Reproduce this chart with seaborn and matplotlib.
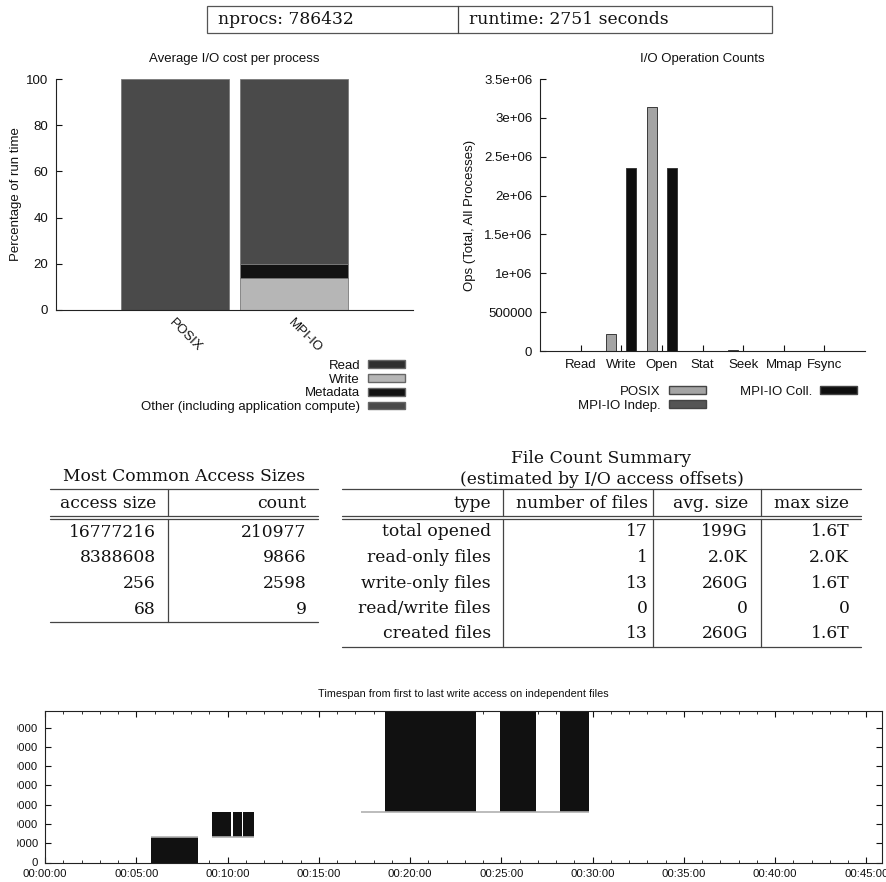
import numpy as np
import pandas as pd
import seaborn as sns
import matplotlib
matplotlib.use('Agg')
import matplotlib.pyplot as plt
from matplotlib.patches import Patch, Rectangle
from matplotlib.ticker import FuncFormatter, MultipleLocator
from matplotlib.transforms import Bbox

## header values
nprocs = 786432
runtime = 2751

## average I/O cost per process, percent of run time
cost_apis = ['POSIX', 'MPI-IO']
cost_parts = ['Read', 'Write', 'Metadata', 'Other (including application compute)']
cost_read = [0.0, 0.0]
cost_write = [0.0, 13.7]
cost_meta = [0.0, 6.1]
cost_other = [100.0, 80.2]
cost_colors = ['#2e2e2e', '#b6b6b6', '#121212', '#4a4a4a']

## I/O operation counts
ops = ['Read', 'Write', 'Open', 'Stat', 'Seek', 'Mmap', 'Fsync']
api_names = ['POSIX', 'MPI-IO Indep.', 'MPI-IO Coll.']
ops_posix = [0, 223450, 3145728, 0, 9000, 0, 0]
ops_mpi_indep = [0, 0, 0, 0, 0, 0, 0]
ops_mpi_coll = [0, 2359296, 2359296, 0, 0, 0, 0]
api_colors = {'POSIX': '#a4a4a4', 'MPI-IO Indep.': '#555555', 'MPI-IO Coll.': '#0e0e0e'}

## most common access sizes
access_sizes = [16777216, 8388608, 256, 68]
access_counts = [210977, 9866, 2598, 9]

## file count summary
file_types = ['total opened', 'read-only files', 'write-only files', 'read/write files', 'created files']
file_counts = [17, 1, 13, 0, 13]
avg_sizes = ['199G', '2.0K', '260G', '0', '260G']
max_sizes = ['1.6T', '2.0K', '1.6T', '0', '1.6T']

## timespan of write access (seconds, rank ranges)
span_start = [350, 549, 618, 651, 1118, 1497, 1692]
span_end = [503, 612, 646, 688, 1417, 1614, 1789]
span_rank_lo = [0, 131072, 131072, 131072, 262144, 262144, 262144]
span_rank_hi = [131072, 262144, 262144, 262144, 786432, 786432, 786432]
edge_start = [350, 549, 1038]
edge_end = [503, 688, 1789]
edge_rank = [131072, 131072, 262144]

sns.set_style('ticks')
plt.rcParams['font.family'] = ['Liberation Sans', 'DejaVu Sans']
plt.rcParams['axes.linewidth'] = 0.8
plt.rcParams['axes.edgecolor'] = '#222222'
plt.rcParams['text.color'] = '#111111'
plt.rcParams['axes.labelcolor'] = '#111111'
plt.rcParams['xtick.color'] = '#111111'
plt.rcParams['ytick.color'] = '#111111'

W, H = 887, 882
fig = plt.figure(figsize=(W / 100, H / 100), dpi=100)
fs = 9.5
serif = 'DejaVu Serif'
tfs = 12.3


def box(l, t, r, b):
    return [l / W, 1 - b / H, (r - l) / W, (b - t) / H]


## I. average I/O cost
ax1 = fig.add_axes(box(56, 79, 413, 310))
x = np.arange(len(cost_apis))
bottom = np.zeros(len(cost_apis))
for vals, color, name in zip([cost_read, cost_write, cost_meta, cost_other], cost_colors, cost_parts):
    ax1.bar(x, vals, width=0.9, bottom=bottom, color=color, edgecolor='#7a7a7a', linewidth=0.6, label=name)
    bottom += np.array(vals)
ax1.set_xlim(-1, 2)
ax1.set_ylim(0, 100)
ax1.set_yticks(range(0, 101, 20))
ax1.set_xticks(x)
ax1.set_xticklabels(cost_apis)
for lbl in ax1.get_xticklabels():
    lbl.set_rotation(-45)
    lbl.set_ha('left')
    lbl.set_va('top')
    lbl.set_rotation_mode('anchor')
ax1.tick_params(direction='in', length=4, pad=5.5, labelsize=fs)
ax1.tick_params(axis='x', length=0, pad=5)
ax1.set_ylabel('Percentage of run time', fontsize=fs, labelpad=3)
ax1.set_title('Average I/O cost per process', fontsize=fs, pad=12)
sns.despine(ax=ax1)
h1 = [Patch(facecolor=c, edgecolor='#666666', label=n) for c, n in zip(cost_colors, cost_parts)]
ax1.legend(handles=h1, loc='upper right', bbox_to_anchor=(405 / W, 1 - 360 / H),
           bbox_transform=fig.transFigure, frameon=False, markerfirst=False, fontsize=fs,
           borderpad=0, borderaxespad=0, labelspacing=0.13, handlelength=2.8,
           handleheight=0.55, handletextpad=0.6)

## II. operation counts
ax2 = fig.add_axes(box(540, 79, 865, 351))
df_ops = pd.DataFrame({
    'op': ops * 3,
    'api': np.repeat(api_names, len(ops)),
    'count': ops_posix + ops_mpi_indep + ops_mpi_coll,
})
sns.barplot(data=df_ops, x='op', y='count', hue='api', order=ops, hue_order=api_names,
            palette=api_colors, width=0.75, edgecolor='#3a3a3a', linewidth=0.7,
            legend=False, ax=ax2)
ax2.set_xlim(-1, 7)
ax2.set_ylim(0, 3.5e6)
ax2.yaxis.set_major_locator(MultipleLocator(5e5))
ax2.yaxis.set_major_formatter(FuncFormatter(lambda v, p: '%g' % v))
ax2.tick_params(direction='in', length=4, pad=5.5, labelsize=fs)
ax2.set_xlabel('')
ax2.set_ylabel('Ops (Total, All Processes)', fontsize=fs, labelpad=6)
ax2.set_title('I/O Operation Counts', fontsize=fs, pad=12)
sns.despine(ax=ax2)
h2 = [Patch(facecolor=api_colors[n], edgecolor='#444444', label=n) for n in api_names]
ax2.legend(handles=h2, loc='upper right', bbox_to_anchor=(857 / W, 1 - 386 / H),
           bbox_transform=fig.transFigure, frameon=False, markerfirst=False, fontsize=fs,
           ncol=2, columnspacing=2.6, borderpad=0, borderaxespad=0, labelspacing=0.13,
           handlelength=2.8, handleheight=0.55, handletextpad=0.6)

## III. timespan
ax3 = fig.add_axes(box(45, 711, 882, 862.5))
ax3.bar(span_start, np.array(span_rank_hi) - np.array(span_rank_lo),
        width=np.array(span_end) - np.array(span_start), bottom=span_rank_lo,
        align='edge', color='#111111', linewidth=0)
ax3.hlines(edge_rank, edge_start, edge_end, color='#b0b0b0', linewidth=1.2)
ax3.set_xlim(0, runtime)
ax3.set_ylim(0, nprocs)
ax3.xaxis.set_major_locator(MultipleLocator(300))
ax3.xaxis.set_minor_locator(MultipleLocator(60))
ax3.yaxis.set_major_locator(MultipleLocator(100000))
ax3.xaxis.set_major_formatter(FuncFormatter(
    lambda v, p: '%02d:%02d:%02d' % (v // 3600, (v % 3600) // 60, v % 60)))
ax3.yaxis.set_major_formatter(FuncFormatter(lambda v, p: '%d' % v))
ax3.tick_params(which='both', direction='in', top=True, right=True, labelsize=8.2, pad=5)
ax3.tick_params(which='major', length=4)
ax3.tick_params(which='minor', length=2.5)
ax3.set_title('Timespan from first to last write access on independent files', fontsize=7.8, pad=10)
clip = Bbox.from_extents(17, 0, W, H)
for lbl in ax3.get_yticklabels():
    lbl.set_clip_box(clip)
    lbl.set_clip_on(True)

## IV. header box and tables (drawn in pixel coordinates)
ov = fig.add_axes([0, 0, 1, 1])
ov.set_xlim(0, W)
ov.set_ylim(H, 0)
ov.axis('off')
line = dict(color='#444444', linewidth=0.9)

ov.add_patch(Rectangle((207, 5.5), 565, 27, fill=False, edgecolor='#555555', linewidth=0.9))
ov.plot([458, 458], [5.5, 32.5], **line)
ov.text(218, 19, 'nprocs: %d' % nprocs, family=serif, fontsize=tfs, va='center')
ov.text(469, 19, 'runtime: %d seconds' % runtime, family=serif, fontsize=tfs, va='center')

# most common access sizes
ov.text(184, 481, 'Most Common Access Sizes', family=serif, fontsize=tfs, ha='center', va='baseline')
ov.plot([50, 318], [489, 489], **line)
ov.plot([50, 318], [515.7, 515.7], **line)
ov.plot([50, 318], [519, 519], **line)
ov.plot([50, 318], [621.7, 621.7], **line)
ov.plot([168, 168], [489, 515.7], **line)
ov.plot([168, 168], [519, 621.7], **line)
ov.text(156, 507.5, 'access size', family=serif, fontsize=tfs, ha='right', va='baseline')
ov.text(306.7, 507.5, 'count', family=serif, fontsize=tfs, ha='right', va='baseline')
for i, (s, c) in enumerate(zip(access_sizes, access_counts)):
    yb = 537 + i * 25.5
    ov.text(156, yb, str(s), family=serif, fontsize=tfs, ha='right', va='baseline')
    ov.text(306.7, yb, str(c), family=serif, fontsize=tfs, ha='right', va='baseline')

# file count summary
ov.text(601.5, 463, 'File Count Summary', family=serif, fontsize=tfs, ha='center', va='baseline')
ov.text(601.5, 484.5, '(estimated by I/O access offsets)', family=serif, fontsize=tfs, ha='center', va='baseline')
ov.plot([342, 861], [489, 489], **line)
ov.plot([342, 861], [515.7, 515.7], **line)
ov.plot([342, 861], [519, 519], **line)
ov.plot([342, 861], [647, 647], **line)
for xv in [502.7, 653, 760.7]:
    ov.plot([xv, xv], [489, 515.7], **line)
    ov.plot([xv, xv], [519, 647], **line)
col_right = [491, 648, 748, 849.3]
for xr, head in zip(col_right, ['type', 'number of files', 'avg. size', 'max size']):
    ov.text(xr, 507.5, head, family=serif, fontsize=tfs, ha='right', va='baseline')
for i, row in enumerate(zip(file_types, file_counts, avg_sizes, max_sizes)):
    yb = 536.5 + i * 25.5
    for xr, val in zip(col_right, row):
        ov.text(xr, yb, str(val), family=serif, fontsize=tfs, ha='right', va='baseline')

fig.savefig('out.png', dpi=100)
